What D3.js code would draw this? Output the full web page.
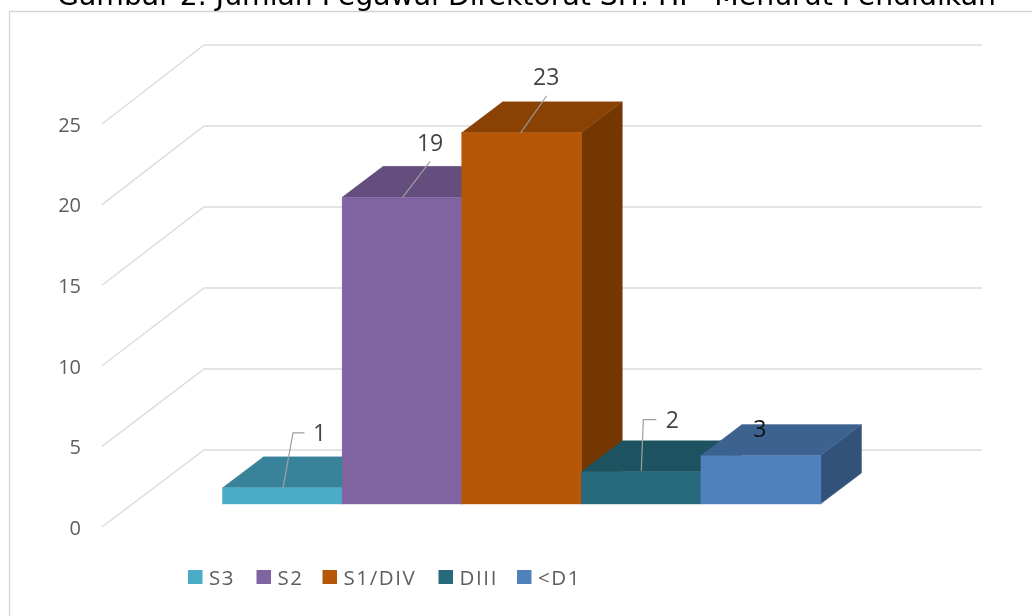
<!DOCTYPE html>
<html><head><meta charset="utf-8">
<script src="https://cdn.jsdelivr.net/npm/d3@7"></script>
<style>html,body{margin:0;background:#fff}svg{display:block;filter:blur(0.45px)}</style>
</head><body><svg id="c" width="1032" height="616"></svg>
<script>
const categories = ["S3","S2","S1/DIV","DIII","<D1"];
const values = [1,19,23,2,3];
const frontColors = ["#4bacc6","#8064a2","#b65708","#276a7c","#4f81bd"];
const topColors = ["#38839a","#634e7e","#8a4204","#1d5260","#3c6290"];
const sideColors = ["#2f6f83","#553f6f","#743702","#184552","#32527a"];
const yTicks = [0,5,10,15,20,25];
const titleText = "Gambar 2. Jumlah Pegawai Direktorat SIT. HP  Menurut Pendidikan";

const svg = d3.select("#c");
const fontF = "'Open Sans','Noto Sans',sans-serif";
// front plane of the bars
const y = d3.scaleLinear().domain([0,25]).range([504,100.5]);
const x = d3.scaleBand().domain(categories).range([222.5,820.5]).padding(0);
// wall plane and left axis plane
const yWall = d3.scaleLinear().domain([0,25]).range([450,45]);
const yAxis = d3.scaleLinear().domain([0,25]).range([527,124]);
const depth = {dx:41, dy:-31};
const wallL = 204, wallR = 982, axisX = 102;

// frame
svg.append("path").attr("d","M9.5,616V11.5H1032").attr("fill","none").attr("stroke","#d4d4d4").attr("stroke-width",1.3);

// title
svg.append("text").attr("x",526.5).attr("y",5).attr("text-anchor","middle")
  .attr("font-family","'DejaVu Sans',sans-serif").attr("font-size",28.3).attr("fill","#000").attr("xml:space","preserve").text(titleText);

// gridlines
const grid = svg.append("g").attr("fill","none").attr("stroke","#dcdcdc").attr("stroke-width",1.4);
yTicks.forEach(t=>{
  grid.append("path").attr("d",d3.line()([[axisX,yAxis(t)],[wallL,yWall(t)],[wallR,yWall(t)]]));
});

// tick labels
svg.append("g").selectAll("text").data(yTicks).join("text")
  .attr("x",81).attr("y",d=>yAxis(d)+0.5).attr("dy","0.36em").attr("text-anchor","end")
  .attr("font-family",fontF).attr("font-size",20).attr("fill","#5e5e5e").text(d=>d);

// bars
const poly = p => d3.line()(p)+"Z";
const bars = svg.append("g").selectAll("g").data(categories).join("g");
bars.each(function(c,i){
  const g = d3.select(this), x0=x(c), x1=x0+x.bandwidth(), yt=y(values[i]), yb=y(0), {dx,dy}=depth;
  g.append("path").attr("d",poly([[x1,yt],[x1+dx,yt+dy],[x1+dx,yb+dy],[x1,yb]])).attr("fill",sideColors[i]).attr("stroke",sideColors[i]).attr("stroke-width",0.4);
  g.append("path").attr("d",poly([[x0,yt],[x0+dx,yt+dy],[x1+dx,yt+dy],[x1,yt]])).attr("fill",topColors[i]).attr("stroke",topColors[i]).attr("stroke-width",0.4);
  g.append("rect").attr("x",x0).attr("y",yt).attr("width",x.bandwidth()+0.5).attr("height",yb-yt).attr("fill",frontColors[i]).attr("stroke",frontColors[i]).attr("stroke-width",0.4);
});

// data label leaders and labels, placed relative to each bar's top
const labelOff = [[97,-54],[88,-54],[84.5,-55],[91,-51],[59,-26]];
const leaderPts = [
  [[60.5,0],[70.5,-55],[82,-55]],
  [[60.5,0],[88,-36]],
  [[59,0],[85,-37]],
  [[60,-1],[62,-52],[75,-52]],
  null];
const labelColor = ["#444","#444","#444","#444","#111"];
const lab = svg.append("g");
categories.forEach((c,i)=>{
  const x0=x(c), yt=y(values[i]);
  if(leaderPts[i]) lab.append("path").attr("fill","none").attr("stroke","#a0a0a0").attr("stroke-width",1.2)
    .attr("d",d3.line()(leaderPts[i].map(p=>[x0+p[0],yt+p[1]])));
  lab.append("text").attr("x",x0+labelOff[i][0]).attr("y",yt+labelOff[i][1]).attr("dy","0.32em").attr("text-anchor","middle")
    .attr("font-family",fontF).attr("font-size",23).attr("fill",labelColor[i]).text(values[i]);
});

// legend
const legX = [188,256.5,322.5,438.5,517];
const leg = svg.append("g").selectAll("g").data(categories).join("g").attr("transform",(d,i)=>`translate(${legX[i]},570)`);
leg.append("rect").attr("width",14.5).attr("height",14).attr("fill",(d,i)=>frontColors[i]);
leg.append("text").attr("x",21).attr("y",7.5).attr("dy","0.36em").attr("font-family",fontF).attr("font-size",20.5).attr("letter-spacing",1.6).attr("fill","#5e5e5e").text(d=>d);
</script></body></html>
